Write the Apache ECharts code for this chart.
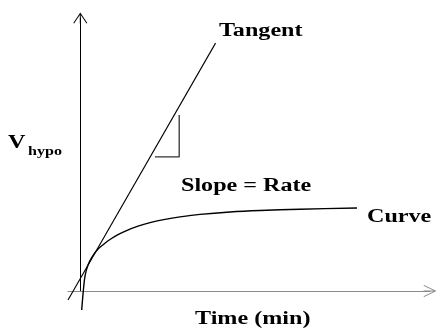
<!DOCTYPE html>
<html>
<head>
<meta charset="utf-8">
<script src="https://cdn.jsdelivr.net/npm/echarts@6/dist/echarts.min.js"></script>
<style>
html,body{margin:0;padding:0;background:#fff;}
#chart{width:437px;height:329px;}
</style>
</head>
<body>
<div id="chart"></div>
<script>
// Saturating curve (time, V)
var curveT = [0.051, 0.081, 0.110, 0.172, 0.282, 0.428, 0.648, 0.867, 1.087, 1.380, 1.673, 2.112, 2.551, 3.100, 3.649, 4.381, 5.479, 6.577, 8.041, 10.128];
var curveV = [-0.696, -0.330, 0.000, 0.549, 0.952, 1.245, 1.538, 1.722, 1.886, 2.062, 2.205, 2.374, 2.502, 2.623, 2.714, 2.806, 2.894, 2.949, 2.996, 3.040];
// Tangent line endpoints
var tangentT = [-0.45, 4.95];
var tangentV = [-0.33, 9.08];
// Right-angle slope marker
var markerT = [2.73, 3.62, 3.62];
var markerV = [4.91, 4.91, 6.45];
// Texts
var labelTangent = 'Tangent';
var labelSlope = 'Slope = Rate';
var labelCurve = 'Curve';
var labelX = 'Time (min)';
var labelYMain = 'V';
var labelYSub = 'hypo';

function zip(a, b) { return a.map(function (v, i) { return [v, b[i]]; }); }

var chart = echarts.init(document.getElementById('chart'), null, { renderer: 'canvas' });

var yArrow = 'path://M7,0 L14,10.4 L13.2,11 L7,1.8 L0.8,11 L0,10.4 Z M6.5,0.8 L7.5,0.8 L7.5,11 L6.5,11 Z';
var xArrow = 'path://M6,0 L12,12.4 L11.2,13 L6,2 L0.8,13 L0,12.4 Z M5.5,0.8 L6.5,0.8 L6.5,13 L5.5,13 Z';

var SX = 1.34;
var SERIF = "'Liberation Serif', 'Times New Roman', Times, serif";
function txt(text, x, y, size, sx) {
  return {
    type: 'text', x: x, y: y, scaleX: sx, z: 100,
    style: { text: text, font: 'bold ' + size + 'px ' + SERIF, fill: '#000',
      align: 'left', verticalAlign: 'middle', textAlign: 'left', textVerticalAlign: 'middle' }
  };
}

chart.setOption({
  animation: false,
  backgroundColor: '#fff',
  grid: { left: 68, right: 7, top: 18, bottom: 38 },
  xAxis: {
    type: 'value', min: -0.45, max: 12.8,
    axisLine: { show: true, onZero: true, symbol: ['none', xArrow], symbolSize: [12, 13], lineStyle: { color: '#8a8a8a', width: 1 } },
    axisTick: { show: false }, axisLabel: { show: false }, splitLine: { show: false }
  },
  yAxis: {
    type: 'value', min: 0, max: 10,
    axisLine: { show: true, onZero: true, symbol: ['none', yArrow], symbolSize: [14, 11], lineStyle: { color: '#000', width: 1 } },
    axisTick: { show: false }, axisLabel: { show: false }, splitLine: { show: false }
  },
  series: [
    { type: 'line', data: zip(curveT, curveV), smooth: 0.3, showSymbol: false, clip: false,
      lineStyle: { color: '#000', width: 1.4 } },
    { type: 'line', data: zip(tangentT, tangentV), showSymbol: false, clip: false,
      lineStyle: { color: '#000', width: 1.1 } },
    { type: 'line', data: zip(markerT, markerV), showSymbol: false, clip: false,
      lineStyle: { color: '#333', width: 1.3 } }
  ],
  graphic: [
    txt(labelTangent, 219, 31, 18, SX),
    txt(labelSlope, 181, 186.5, 18, SX),
    txt(labelCurve, 367, 217.5, 18, SX),
    txt(labelX, 195, 319, 18, SX),
    txt(labelYMain, 8, 143, 18, SX),
    txt(labelYSub, 28, 151.5, 12, SX)
  ]
});
</script>
</body>
</html>
